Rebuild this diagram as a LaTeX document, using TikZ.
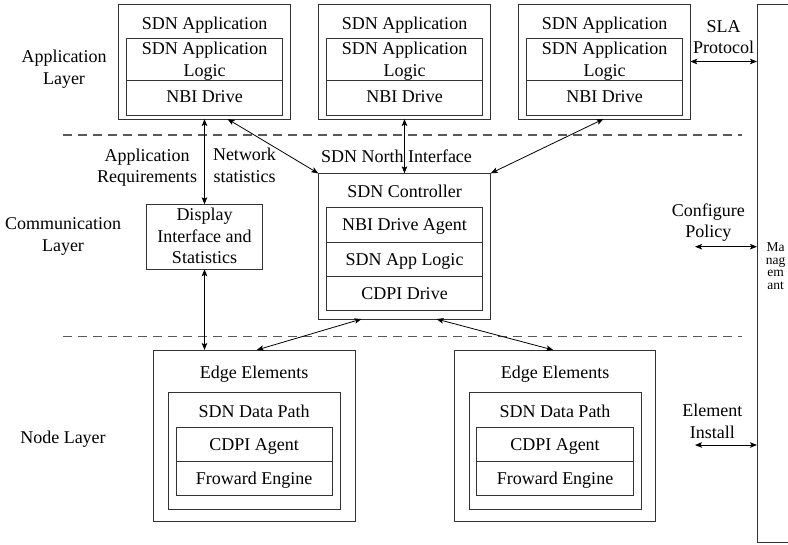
\documentclass[tikz,border=0pt]{standalone}
\usepackage{fontspec}
\setmainfont{Liberation Serif}
\usetikzlibrary{arrows.meta}
\begin{document}
\begin{tikzpicture}[x=1pt,y=-1pt,
  box/.style={draw=black!80, line width=0.9pt, inner sep=0pt, outer sep=0pt},
  txt/.style={inner sep=0pt, outer sep=0pt, font=\fontsize{18}{21.5}\selectfont, align=center},
  small/.style={inner sep=0pt, outer sep=0pt, font=\fontsize{13.5}{12.6}\selectfont, align=center},
  link/.style={draw=black, line width=0.8pt,
    {Stealth[length=7pt,width=5.5pt,inset=1.5pt]}-{Stealth[length=7pt,width=5.5pt,inset=1.5pt]}},
  layersep/.style={draw=black!65, line width=1.3pt, dash pattern=on 9pt off 6pt},
]
\useasboundingbox (0,0) rectangle (788,545);

% layer names
\node[txt] (lapp) at (64,69) {Application\\Layer};
\node[txt] (lcom) at (63,236.5) {Communication\\Layer};
\node[txt, anchor=base] (lnode) at (63,444) {Node Layer};

% layer separators
\coordinate (sepA1) at (63,135);
\coordinate (sepA2) at (742,135);
\coordinate (sepB1) at (63,336.5);
\coordinate (sepB2) at (742,336.5);
\draw[layersep] (sepA1) -- (sepA2);
\draw[layersep] (sepB1) -- (sepB2);

% SDN applications
\foreach \i/\x in {1/204.5, 2/404.5, 3/604.5}{
  \node[box, minimum width=171.5pt, minimum height=115pt] (app\i) at (\x,61.5) {};
  \node[box, minimum width=156pt, minimum height=42pt] (app\i logic) at (\x,59) {};
  \node[box, minimum width=156pt, minimum height=35pt] (app\i nbi) at (\x,97.5) {};
  \node[txt, anchor=base] (app\i t) at (\x,29.3) {SDN Application};
  \node[txt] (app\i lt) at (\x,61) {SDN Application\\Logic};
  \node[txt, anchor=base] (app\i nt) at (\x,103) {NBI Drive};
}

% display interface
\node[box, minimum width=115.6pt, minimum height=65pt] (disp) at (204.5,236.8) {};
\node[txt] (dispt) at (204.5,236) {Display\\Interface and\\Statistics};
\node[txt] (appreq) at (147,167.5) {Application\\Requirements};
\node[txt] (netst) at (244.5,165.5) {Network\\statistics};

% SDN controller
\node[box, minimum width=172.4pt, minimum height=145.7pt] (ctrl) at (404.5,246.2) {};
\node[box, minimum width=156pt, minimum height=34.6pt] (ctrlnbi) at (404.5,225) {};
\node[box, minimum width=156pt, minimum height=34.4pt] (ctrlapp) at (404.5,259.5) {};
\node[box, minimum width=156pt, minimum height=34pt] (ctrlcdpi) at (404.5,293.7) {};
\node[txt, anchor=base] (ctrlt) at (404.5,197.3) {SDN Controller};
\node[txt, anchor=base] (ctrlnbit) at (404.5,230.8) {NBI Drive Agent};
\node[txt, anchor=base] (ctrlappt) at (404.5,265.3) {SDN App Logic};
\node[txt, anchor=base] (ctrlcdpit) at (404.5,299.5) {CDPI Drive};
\node[txt, anchor=base] (north) at (396.5,162.3) {SDN North Interface};

% edge elements
\foreach \i/\x in {1/254.2, 2/555}{
  \node[box, minimum width=201.7pt, minimum height=171.7pt] (edge\i) at (\x,435.85) {};
  \node[box, minimum width=172pt, minimum height=116.3pt] (path\i) at (\x,450.85) {};
  \node[box, minimum width=156.3pt, minimum height=34.4pt] (agent\i) at (\x,444.5) {};
  \node[box, minimum width=156.3pt, minimum height=34pt] (engine\i) at (\x,478.7) {};
  \node[txt, anchor=base] (edge\i t) at (\x,378.3) {Edge Elements};
  \node[txt, anchor=base] (path\i t) at (\x,417.7) {SDN Data Path};
  \node[txt, anchor=base] (agent\i t) at (\x,450.3) {CDPI Agent};
  \node[txt, anchor=base] (engine\i t) at (\x,484.3) {Froward Engine};
}

% management
\node[box, minimum width=34pt, minimum height=538pt] (mgmt) at (774,273) {};
\node[small] (mgmtt) at (775.5,266) {Ma\\nag\\em\\ant};
\node[txt] (sla) at (723.5,37.1) {SLA\\Protocol};
\node[txt] (cfg) at (708.3,222.8) {Configure\\Policy};
\node[txt] (inst) at (712.3,421.3) {Element\\Install};
\coordinate (cfgL) at (695,246.7);
\coordinate (instL) at (695,445);

% connectors
\draw[link] (app1.south) -- (disp.north);
\draw[link] (disp.south) -- (disp.south |- edge1.north);
\draw[link] ([xshift=23pt]app1.south) -- (ctrl.north west);
\draw[link] (app2.south) -- (ctrl.north);
\draw[link] ([xshift=-1pt]app3.south) -- (ctrl.north east);
\draw[link] ([xshift=-43pt]ctrl.south) -- ([xshift=2.5pt]edge1.north);
\draw[link] ([xshift=32pt]ctrl.south) -- ([xshift=-1.7pt]edge2.north);
\draw[link] (app3.east) -- (app3.east -| mgmt.west);
\draw[link] (cfgL) -- (cfgL -| mgmt.west);
\draw[link] (instL) -- (instL -| mgmt.west);
\end{tikzpicture}
\end{document}
